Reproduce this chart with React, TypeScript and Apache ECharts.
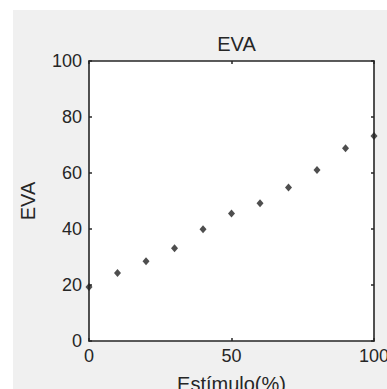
import React, { useEffect, useRef } from "react";
import * as echarts from "echarts";

const stimulus = [0, 10, 20, 30, 40, 50, 60, 70, 80, 90, 100];
const evaValues = [19.3, 24.3, 28.5, 33.1, 39.9, 45.5, 49.2, 54.8, 61.1, 68.8, 73.2];
const titleText = "EVA";
const xName = "Estímulo(%)";
const yName = "EVA";

const FONT = "'Liberation Sans', Arial, Helvetica, sans-serif";
const INK = "#262626";

export default function App() {
  const ref = useRef<HTMLDivElement>(null);
  useEffect(() => {
    if (!ref.current) return;
    const chart = echarts.init(ref.current, null, { renderer: "svg" });
    const data = stimulus.map((x, i) => [x, evaValues[i]]);
    const gridL = 89, gridT = 61, gridW = 285, gridH = 280;
    const common = {
      min: 0,
      max: 100,
      splitLine: { show: false },
      axisLine: { show: true, onZero: false, lineStyle: { color: INK, width: 1.6 } },
      axisTick: { show: true, inside: true, length: 3, lineStyle: { color: INK, width: 1.5 } },
    };
    chart.setOption({
      animation: false,
      backgroundColor: "#ffffff",
      title: {
        text: titleText,
        left: gridL + gridW / 2,
        top: 29,
        textAlign: "center",
        textStyle: { fontFamily: FONT, fontSize: 20, fontWeight: "normal", color: INK },
      },
      graphic: [
        {
          type: "rect",
          z: -10,
          silent: true,
          shape: { x: 13, y: 10, width: 400, height: 400 },
          style: { fill: "#f0f0f0" },
        },
      ],
      grid: {
        left: gridL,
        top: gridT,
        width: gridW,
        height: gridH,
        outerBoundsMode: "none",
        containLabel: false,
        show: true,
        backgroundColor: "#ffffff",
        borderWidth: 0,
        z: 0,
      },
      xAxis: [
        {
          ...common,
          type: "value",
          position: "bottom",
          interval: 50,
          axisLabel: { margin: 6, fontFamily: FONT, fontSize: 18, color: INK },
          name: xName,
          nameLocation: "middle",
          nameGap: 33,
          nameTextStyle: { fontFamily: FONT, fontSize: 20, color: INK },
        },
        {
          ...common,
          type: "value",
          position: "top",
          interval: 50,
          axisLabel: { show: false },
        },
      ],
      yAxis: [
        {
          ...common,
          type: "value",
          position: "left",
          interval: 20,
          axisLabel: { margin: 7, fontFamily: FONT, fontSize: 18, color: INK },
          name: yName,
          nameLocation: "middle",
          nameGap: 51,
          nameTextStyle: { fontFamily: FONT, fontSize: 20, color: INK },
        },
        {
          ...common,
          type: "value",
          position: "right",
          interval: 20,
          axisLabel: { show: false },
        },
      ],
      series: [
        {
          type: "scatter",
          xAxisIndex: 0,
          yAxisIndex: 0,
          data,
          symbol: "diamond",
          symbolSize: [7, 8],
          clip: false,
          itemStyle: { color: "#222222" },
          z: 5,
        },
      ],
    });
    return () => chart.dispose();
  }, []);
  return (
    <div
      ref={ref}
      style={{ position: "fixed", left: 0, top: 0, width: 387, height: 389 }}
    />
  );
}
